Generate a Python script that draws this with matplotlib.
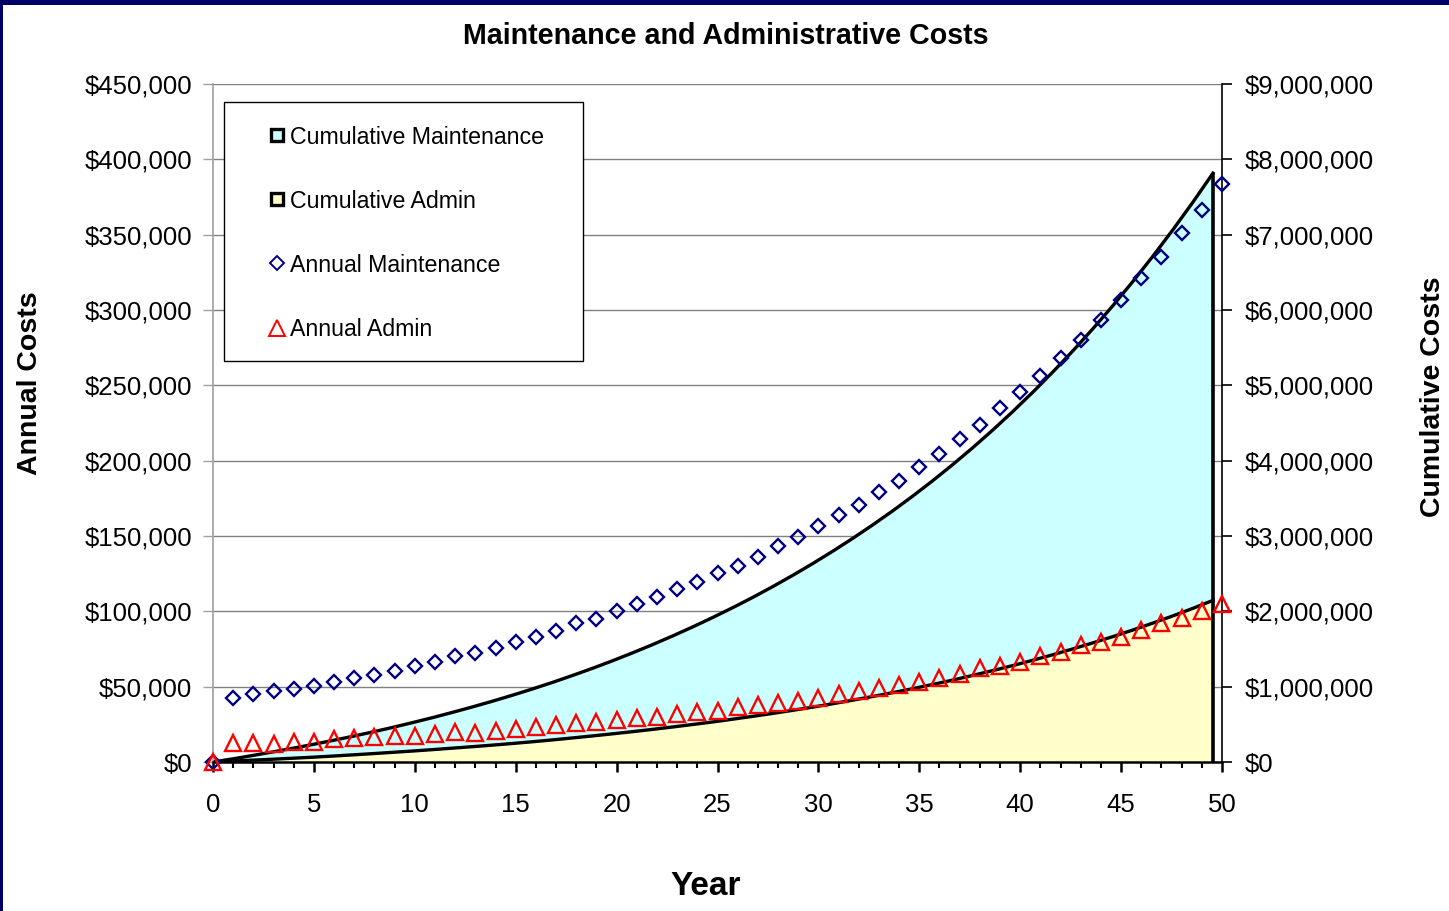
import numpy as np
import matplotlib
matplotlib.use("Agg")
from matplotlib import pyplot as plt
from matplotlib.lines import Line2D
from matplotlib.patches import Rectangle
from matplotlib.ticker import FuncFormatter, MultipleLocator

plt.rcParams['font.family'] = ['Liberation Sans', 'DejaVu Sans']

# Yearly costs in dollars, year 0 through 50
years = np.arange(0, 51)
annual_maint = np.array([
    0, 42.3, 44.9, 47.1, 48.4, 50.6, 53.3, 55.5, 57.7, 60.6,
    63.9, 66.2, 70.1, 72.6, 75.9, 79.6, 83.2, 86.9, 92.0, 95.1,
    100.2, 104.9, 109.7, 114.6, 119.5, 125.4, 130.3, 136.3, 143.4, 149.5,
    156.6, 163.7, 170.8, 179.2, 186.5, 196.0, 204.4, 214.2, 223.7, 234.7,
    245.4, 256.2, 268.3, 280.1, 293.4, 306.6, 321.0, 335.4, 350.9, 366.4,
    383.4]) * 1000
annual_admin = np.array([
    0, 12.4, 12.4, 12.0, 13.5, 13.5, 15.0, 16.1, 16.4, 17.5,
    17.3, 18.6, 19.7, 19.5, 20.6, 21.9, 23.0, 24.6, 26.1, 26.7,
    27.7, 29.0, 30.1, 31.7, 33.0, 33.8, 36.7, 37.8, 39.0, 40.7,
    42.7, 45.1, 47.3, 48.9, 51.1, 52.9, 55.5, 58.2, 62.2, 63.9,
    66.6, 70.6, 73.0, 77.7, 79.9, 83.2, 87.6, 92.0, 95.4, 100.2,
    104.9]) * 1000
cum_maint = np.cumsum(annual_maint)
cum_admin = np.cumsum(annual_admin)

MAINT_FILL = '#CCFFFF'
ADMIN_FILL = '#FFFFCC'
NAVY = '#000080'
RED = '#FF0000'

money = FuncFormatter(lambda v, _: '${:,.0f}'.format(v))

W, H = 1449, 911
fig = plt.figure(figsize=(W / 100, H / 100), dpi=100)
# plot area in pixels: x 213..1222, y 84..762
PX0, PX1, PY0, PY1 = 213, 1222, 84, 762
rect = [PX0 / W, 1 - PY1 / H, (PX1 - PX0) / W, (PY1 - PY0) / H]


def ax_xy(px, py):
    """pixel position -> axes fraction"""
    return (px - PX0) / (PX1 - PX0), (PY1 - py) / (PY1 - PY0)


# cumulative areas on the secondary scale (drawn underneath)
ax_cum = fig.add_axes(rect, zorder=1)
ax_cum.set_xlim(0, 50.45)
ax_cum.set_ylim(0, 9e6)
ax_cum.yaxis.set_major_locator(MultipleLocator(1e6))
ax_cum.yaxis.set_major_formatter(money)
ax_cum.yaxis.tick_right()
ax_cum.set_xticks([])
ax_cum.grid(axis='y', color='#808080', linewidth=1.0)
ax_cum.set_axisbelow(True)
for s in ['left', 'top', 'bottom']:
    ax_cum.spines[s].set_visible(False)
ax_cum.spines['right'].set_color('black')
ax_cum.spines['right'].set_linewidth(1.2)
ax_cum.tick_params(axis='y', direction='out', length=7, width=1.2, pad=9,
                   labelsize=18.5, colors='black')

ax_cum.fill_between(years, 0, cum_maint, color=MAINT_FILL, linewidth=0, zorder=2)
ax_cum.plot(years, cum_maint, color='black', linewidth=2.4, zorder=3)
ax_cum.fill_between(years, 0, cum_admin, color=ADMIN_FILL, linewidth=0, zorder=4)
ax_cum.plot(years, cum_admin, color='black', linewidth=2.4, zorder=5)
ax_cum.plot([years[-1], years[-1]], [0, cum_maint[-1]], color='black',
            linewidth=2.6, zorder=6, solid_capstyle='butt')
ax_cum.yaxis.set_label_position('right')
ax_cum.set_ylabel('Cumulative Costs', fontsize=20.5, fontweight='bold')
ax_cum.yaxis.set_label_coords(*ax_xy(1420, 397))

# annual values on the primary scale (drawn on top)
ax = fig.add_axes(rect, zorder=2)
ax.patch.set_visible(False)
ax.set_xlim(0, 50)
ax.set_ylim(0, 450000)
ax.yaxis.set_major_locator(MultipleLocator(50000))
ax.yaxis.set_major_formatter(money)
ax.xaxis.set_major_locator(MultipleLocator(5))
ax.xaxis.set_minor_locator(MultipleLocator(1))
ax.spines['top'].set_visible(False)
ax.spines['right'].set_visible(False)
ax.spines['left'].set_color('#A0A0A0')
ax.spines['left'].set_linewidth(1.2)
ax.spines['bottom'].set_color('black')
ax.spines['bottom'].set_linewidth(1.8)
ax.tick_params(axis='y', direction='out', length=7, width=1.0, pad=8,
               labelsize=18.5, color='#A0A0A0', labelcolor='black')
ax.tick_params(axis='x', which='major', direction='out', length=7, width=1.8,
               pad=15.5, labelsize=18.5)
ax.tick_params(axis='x', which='minor', direction='out', length=4, width=1.5)

ax.plot(years, annual_maint, linestyle='none', marker='D', markersize=7.6,
        markerfacecolor='none', markeredgecolor=NAVY, markeredgewidth=1.7,
        clip_on=False, zorder=5)
ax.plot(years, annual_admin, linestyle='none', marker='^', markersize=11.5,
        markerfacecolor='none', markeredgecolor=RED, markeredgewidth=1.7,
        clip_on=False, zorder=6)

ax.set_xlabel('Year', fontsize=24, fontweight='bold')
ax.xaxis.set_label_coords(*ax_xy(706, 871))
ax.set_ylabel('Annual Costs', fontsize=20.5, fontweight='bold')
ax.yaxis.set_label_coords(*ax_xy(43, 383))

# legend: frame drawn as its own box, entries placed inside it
bx0, by0 = ax_xy(224, 361)
bx1, by1 = ax_xy(583, 102)
ax.add_patch(Rectangle((bx0, by0), bx1 - bx0, by1 - by0, transform=ax.transAxes,
                       facecolor='white', edgecolor='black', linewidth=1.0,
                       zorder=7, clip_on=False))

handles = [
    Line2D([], [], linestyle='none', marker='s', markersize=8.5,
           markerfacecolor=MAINT_FILL, markeredgecolor='black', markeredgewidth=2.4),
    Line2D([], [], linestyle='none', marker='s', markersize=8.5,
           markerfacecolor=ADMIN_FILL, markeredgecolor='black', markeredgewidth=2.4),
    Line2D([], [], linestyle='none', marker='D', markersize=7.4,
           markerfacecolor='none', markeredgecolor=NAVY, markeredgewidth=1.4),
    Line2D([], [], linestyle='none', marker='^', markersize=12,
           markerfacecolor='none', markeredgecolor=RED, markeredgewidth=1.4),
]
labels = ['Cumulative Maintenance', 'Cumulative Admin',
          'Annual Maintenance', 'Annual Admin']
leg = ax.legend(handles, labels, loc='upper left',
                bbox_to_anchor=ax_xy(267.5, 125.5),
                borderaxespad=0, borderpad=0, fontsize=16.7, frameon=False,
                handlelength=0.8, handletextpad=0.16, labelspacing=1.77)
leg.set_zorder(8)

fig.suptitle('Maintenance and Administrative Costs', fontsize=20.6,
             fontweight='bold', x=726 / W, y=1 - 36 / H, va='center')

# dark frame along the top and left edges
fig.patches.append(Rectangle((0, 1 - 5 / H), 1, 5 / H, transform=fig.transFigure,
                             facecolor='#000066', edgecolor='none', zorder=10))
fig.patches.append(Rectangle((0, 0), 3 / W, 1, transform=fig.transFigure,
                             facecolor='#000066', edgecolor='none', zorder=10))

fig.savefig('out.png', dpi=100)
